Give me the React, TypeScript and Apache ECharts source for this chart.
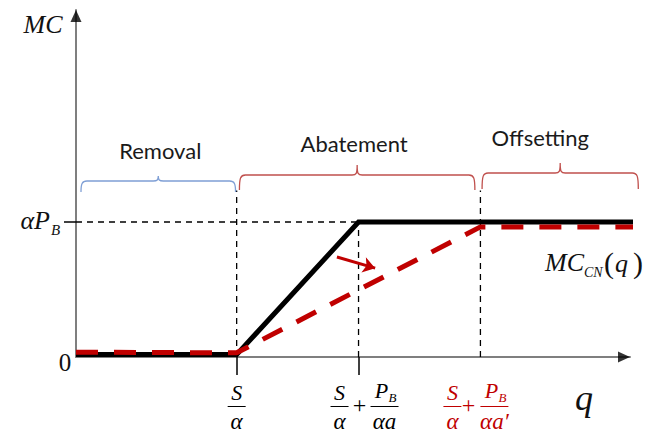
import React, { useEffect, useRef } from "react";
import * as echarts from "echarts";

// ---- data (q on x, MC on y) ----
const qAxisMax = 10;
const mcAxisMax = 10;
const mcBlack: number[][] = [[0, 0.07], [2.9, 0.07], [5.1, 3.89], [10.2, 3.89]];
const mcRed: number[][] = [[0, 0.14], [2.9, 0.12], [7.3, 3.75], [10.2, 3.75]];
const guideVertical: number[][] = [[2.9, 4.8], [5.1, 3.89], [7.3, 4.8]]; // [q, top]
const guideHorizontal: number[][] = [[0, 3.89], [5.1, 3.89]];
const shiftArrow: number[][] = [[4.71, 2.88], [5.4, 2.56]];
const braceRanges: number[][] = [[0.09, 2.88], [2.95, 7.2], [7.33, 10.15]];
const braceLabels: string[] = ["Removal", "Abatement", "Offsetting"];
const xTickValues: number[] = [2.9, 5.1];
const yTickValues: number[] = [3.89];
const qLabelValues: number[][] = [[2.9, 0], [5.1, 0], [7.3, 0]];

const SERIF = "'Liberation Serif', 'DejaVu Serif', serif";
const it = (s: number) => `italic ${s}px ${SERIF}`;
const up = (s: number) => `${s}px ${SERIF}`;
const DARK_RED = "#C00000";

function txt(text: string, x: number, y: number, font: string, fill: string, align = "center", va = "middle") {
  return {
    type: "text",
    style: { text, x, y, font, fill, align, verticalAlign: va, textAlign: align, textVerticalAlign: va },
  };
}

function barLine(x1: number, x2: number, y: number, color: string) {
  return { type: "line", shape: { x1, y1: y, x2, y2: y }, style: { stroke: color, lineWidth: 1 } };
}

function fracSA(cx: number, ay: number, color: string) {
  return [txt("S", cx, ay + 35, it(22), color), barLine(cx - 9, cx + 9, ay + 49.5, color), txt("α", cx, ay + 64, it(23), color)];
}

function fracPB(cx: number, ay: number, color: string, den: string) {
  return [
    txt("P", cx - 3, ay + 33, it(22), color),
    txt("B", cx + 8, ay + 40, it(13), color),
    barLine(cx - 14, cx + 14, ay + 49.5, color),
    txt(den, cx, ay + 64, it(23), color),
  ];
}

const braceStyle = [
  { color: "#7F9FD5", yb: 192, yt: 181, yp: 176, ty: 150, tdx: 2 },
  { color: "#C0504D", yb: 190, yt: 175, yp: 165, ty: 143, tdx: -3 },
  { color: "#C0504D", yb: 189, yt: 173, yp: 163, ty: 137, tdx: -20 },
];

export default function App() {
  const ref = useRef<HTMLDivElement>(null);
  useEffect(() => {
    if (!ref.current) return;
    const chart = echarts.init(ref.current, null, { renderer: "svg" });
    const axisLine = { show: true, onZero: false, lineStyle: { color: "#7f7f7f", width: 2 } };
    const guideStyle = { color: "#000", width: 1.3, type: [6, 5] as any };
    const option: any = {
      animation: false,
      backgroundColor: "#fff",
      grid: { left: 76, top: 10, width: 554, height: 347 },
      xAxis: {
        type: "value", min: 0, max: qAxisMax,
        axisLine,
        axisTick: { show: true, customValues: xTickValues, length: 18, lineStyle: { color: "#000", width: 1.5 } },
        axisLabel: { show: false }, splitLine: { show: false },
      },
      yAxis: {
        type: "value", min: 0, max: mcAxisMax,
        axisLine,
        axisTick: { show: true, customValues: yTickValues, length: 12, lineStyle: { color: "#000", width: 1.5 } },
        axisLabel: { show: false }, splitLine: { show: false },
      },
      series: [
        ...guideVertical.map((g) => ({
          type: "line", data: [[g[0], 0], [g[0], g[1]]], symbol: "none", silent: true, clip: false,
          lineStyle: guideStyle, z: 1,
        })),
        {
          type: "line", data: guideHorizontal, symbol: "none", silent: true, clip: false,
          lineStyle: guideStyle, z: 1,
        },
        {
          type: "line", data: mcBlack, symbol: "none", silent: true, clip: false,
          lineStyle: { color: "#000", width: 5, join: "miter" }, z: 3,
        },
        {
          type: "line", data: mcRed, symbol: "none", silent: true, clip: false,
          lineStyle: { color: DARK_RED, width: 5, type: [22, 16] as any, cap: "butt" }, z: 4,
          markLine: {
            silent: true, symbol: ["none", "arrow"], symbolSize: 12, label: { show: false },
            lineStyle: { color: DARK_RED, width: 3, type: "solid" },
            data: [[{ coord: shiftArrow[0] }, { coord: shiftArrow[1] }]],
          },
        },
        {
          type: "scatter", silent: true, z: 5,
          data: [[qAxisMax, 0]], symbol: "triangle", symbolSize: [11, 12], symbolRotate: -90, symbolOffset: [-6, 0],
          itemStyle: { color: "#000" },
        },
        {
          type: "scatter", silent: true, z: 5,
          data: [[0, mcAxisMax]], symbol: "triangle", symbolSize: [11, 12], symbolOffset: [0, 6],
          itemStyle: { color: "#000" },
        },
        {
          type: "custom", silent: true, clip: false, z: 5,
          data: braceRanges,
          renderItem: (params: any, api: any) => {
            const i = params.dataIndex;
            const s = braceStyle[i];
            const x0 = api.coord([api.value(0), 0])[0];
            const x1 = api.coord([api.value(1), 0])[0];
            const xm = (x0 + x1) / 2;
            const { yb, yt, yp } = s;
            const d =
              `M${x0},${yb} C${x0},${yt + 3} ${x0 + 1},${yt} ${x0 + 6},${yt} ` +
              `L${xm - 5},${yt} C${xm - 1},${yt} ${xm},${yt - 1} ${xm},${yp} ` +
              `C${xm},${yt - 1} ${xm + 1},${yt} ${xm + 5},${yt} ` +
              `L${x1 - 6},${yt} C${x1 - 1},${yt} ${x1},${yt + 3} ${x1},${yb}`;
            return {
              type: "group",
              children: [
                { type: "path", shape: { pathData: d }, style: { stroke: s.color, fill: "none", lineWidth: 1.3 } },
                txt(braceLabels[i], xm + s.tdx, s.ty, "22px Lato, 'Noto Sans', sans-serif", "#1a1a1a"),
              ],
            };
          },
        },
        {
          type: "custom", silent: true, clip: false, z: 5,
          data: qLabelValues,
          renderItem: (params: any, api: any) => {
            const i = params.dataIndex;
            const [tx, ay] = api.coord([api.value(0), 0]);
            let children: any[] = [];
            if (i === 0) {
              children = fracSA(tx, ay, "#000");
            } else if (i === 1) {
              children = [
                ...fracSA(tx - 19, ay, "#000"),
                txt("+", tx + 1, ay + 48, up(24), "#000"),
                ...fracPB(tx + 26, ay, "#000", "αa"),
              ];
            } else {
              children = [
                ...fracSA(tx - 28, ay, DARK_RED),
                txt("+", tx - 12, ay + 48, up(24), DARK_RED),
                ...fracPB(tx + 14, ay, DARK_RED, "αa′"),
              ];
            }
            return { type: "group", children };
          },
        },
      ],
      graphic: [
        txt("MC", 43, 24, it(26), "#111"),
        txt("0", 65, 362, up(25), "#111"),
        txt("αP", 50, 220, it(26), "#111", "right"),
        txt("B", 51, 230, it(15), "#111", "left"),
        txt("q", 584, 398, it(36), "#111"),
        txt("MC", 545, 262, it(26), "#111", "left"),
        txt("CN", 584, 272, it(14), "#111", "left"),
        txt("(", 604, 262, up(30), "#111", "left"),
        txt("q", 615, 263, it(26), "#111", "left"),
        txt(")", 633, 262, up(30), "#111", "left"),
      ],
    };
    chart.setOption(option);
    return () => chart.dispose();
  }, []);
  return (
    <div
      ref={ref}
      style={{ position: "fixed", left: 0, top: 0, width: 661, height: 433, background: "#fff" }}
    />
  );
}
